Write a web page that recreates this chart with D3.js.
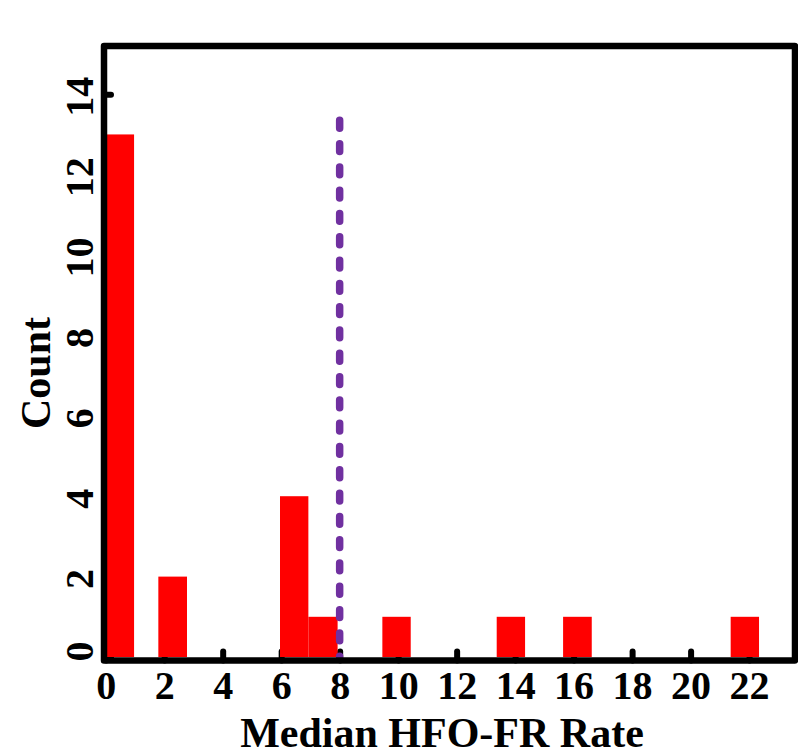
<!DOCTYPE html>
<meta charset="utf-8">
<head>
<script src="https://d3js.org/d3.v7.min.js"></script>
</head>
<style>
    html, body { margin: 0; padding: 0; background: white; }
    text { font-family: "Liberation Serif", "Times New Roman", serif; font-weight: bold; fill: black; }
    .tick text { font-size: 40px; }
    .axis-title { font-size: 42px; }
    .bar { fill: #ff0000; }
</style>
<body>
<div id="chart"></div>
<script>
// histogram bars (left/right edge in rate units) and their counts
var binStart = [0, 1.8, 5.96, 6.93, 9.46, 13.37, 15.64, 21.37];
var binEnd   = [0.97, 2.78, 6.93, 7.93, 10.43, 14.34, 16.62, 22.34];
var counts   = [13, 2, 4, 1, 1, 1, 1, 1];

var xTicks = [0, 2, 4, 6, 8, 10, 12, 14, 16, 18, 20, 22];
var yTicks = [0, 2, 4, 6, 8, 10, 12, 14];

// median line
var medianRate = 8;
var medianTop = 13.35;

var width = 798, height = 755;

var svg = d3.select("#chart").append("svg")
    .attr("width", width)
    .attr("height", height);

var x = d3.scaleLinear().domain([0, 23.57]).range([105.7, 795]);
var y = d3.scaleLinear().domain([0, 15.2]).range([657, 46]);

var frameLeft = 104, frameRight = 795, frameTop = 46, frameBottom = 660.5;

// axes first (inward ticks end up behind the bars)
var xAxis = svg.append("g")
    .attr("transform", "translate(0," + frameBottom + ")")
    .call(d3.axisBottom(x).tickValues(xTicks).tickSize(-9).tickFormat(d3.format("d")));
xAxis.select(".domain").remove();
xAxis.selectAll(".tick line")
    .attr("stroke", "black").attr("stroke-width", 6).attr("stroke-linecap", "round");
xAxis.selectAll(".tick text")
    .attr("y", 38).attr("dy", 0);

var yAxis = svg.append("g")
    .attr("transform", "translate(" + frameLeft + ",0)")
    .call(d3.axisLeft(y).tickValues(yTicks).tickSize(-7).tickFormat(d3.format("d")));
yAxis.select(".domain").remove();
yAxis.selectAll(".tick line")
    .attr("stroke", "black").attr("stroke-width", 6).attr("stroke-linecap", "round");
yAxis.selectAll(".tick text")
    .attr("x", 0).attr("y", 0).attr("dy", 0)
    .attr("text-anchor", "middle")
    .attr("transform", function(d) {
        return "translate(-11," + (d === 0 ? -6 : 2) + ") rotate(-90)";
    });

var data = counts.map(function(c, i) {
    return { start: binStart[i], end: binEnd[i], count: c };
});

svg.selectAll(".bar")
    .data(data)
  .enter().append("rect")
    .attr("class", "bar")
    .attr("x", function(d) { return x(d.start); })
    .attr("width", function(d) { return x(d.end) - x(d.start); })
    .attr("y", function(d) { return y(d.count); })
    .attr("height", function(d) { return y(0) - y(d.count); });

// dashed median line
svg.append("line")
    .attr("x1", x(medianRate)).attr("x2", x(medianRate))
    .attr("y1", y(medianTop)).attr("y2", y(0))
    .attr("stroke", "#7030a0")
    .attr("stroke-width", 7.5)
    .attr("stroke-linecap", "round")
    .attr("stroke-dasharray", "7.8,15.5");

// frame
svg.append("rect")
    .attr("x", frameLeft).attr("y", frameTop)
    .attr("width", frameRight - frameLeft)
    .attr("height", frameBottom - frameTop)
    .attr("fill", "none")
    .attr("stroke", "black")
    .attr("stroke-width", 6.5)
    .attr("stroke-linejoin", "round");

// axis titles
svg.append("text")
    .attr("class", "axis-title")
    .attr("x", 442).attr("y", 747)
    .attr("text-anchor", "middle")
    .text("Median HFO-FR Rate");

svg.append("text")
    .attr("class", "axis-title")
    .attr("text-anchor", "middle")
    .attr("transform", "translate(50,373) rotate(-90)")
    .text("Count");
</script>
</body>
